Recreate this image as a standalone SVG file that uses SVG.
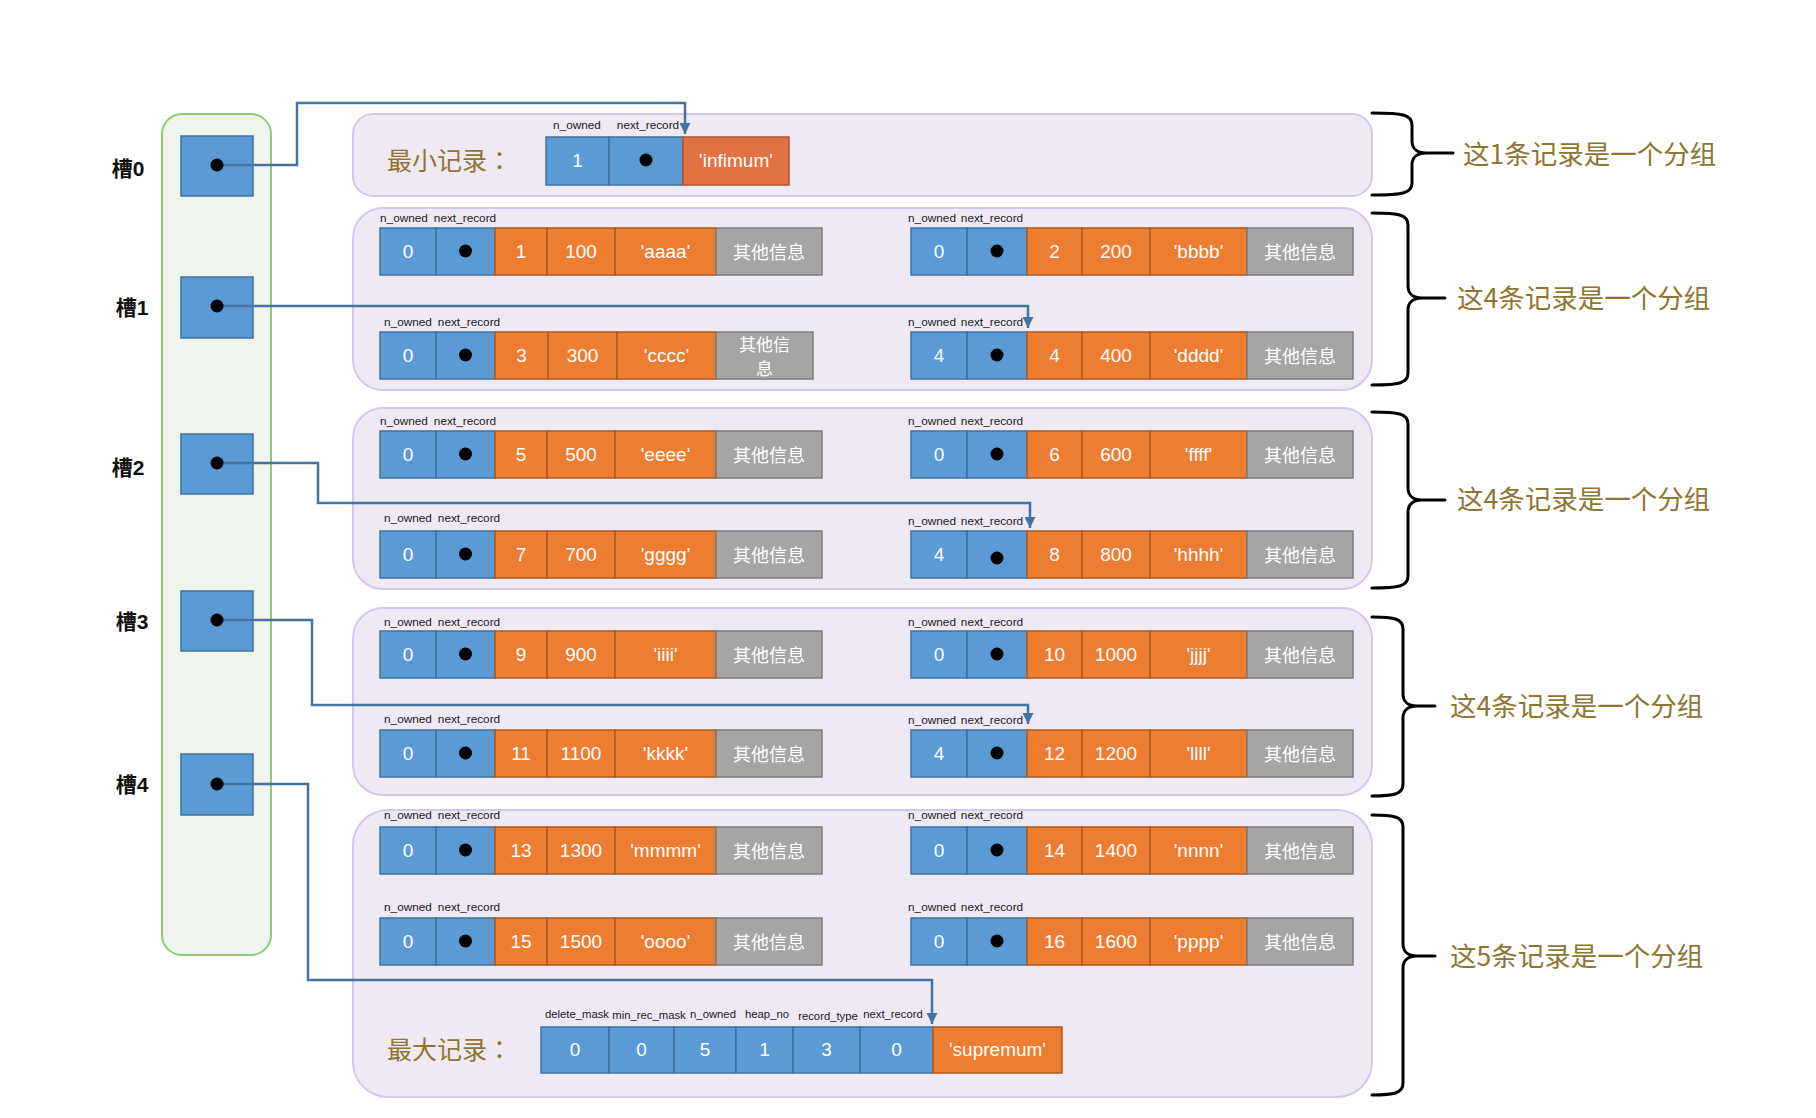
<svg xmlns="http://www.w3.org/2000/svg" width="1816" height="1118" viewBox="0 0 1816 1118">
<style>
.b{fill:#5B9BD5;stroke:#41719C;stroke-width:1.5}
.o{fill:#ED7D31;stroke:#AE5A21;stroke-width:1.5}
.o2{fill:#E27244;stroke:#B5552A;stroke-width:1.5}
.g{fill:#A5A5A5;stroke:#7C7C7C;stroke-width:1.5}
.v{font-family:"Liberation Sans",Arial,sans-serif;font-size:19px;fill:#fff;text-anchor:middle;dominant-baseline:central}
.z{font-family:"Noto Sans CJK SC",sans-serif;font-size:18px;fill:#fff;text-anchor:middle;dominant-baseline:central}
.z2{font-family:"Noto Sans CJK SC",sans-serif;font-size:17px;fill:#fff;text-anchor:middle;dominant-baseline:central}
.l{font-family:"Liberation Sans",Arial,sans-serif;font-size:11.8px;fill:#1a1a1a;text-anchor:middle;dominant-baseline:central}
.lm{font-family:"Liberation Sans",Arial,sans-serif;font-size:11.3px;fill:#1a1a1a;text-anchor:middle;dominant-baseline:central}
.d{fill:#000}
.grp{fill:#EFE9F4;stroke:#D8C6EA;stroke-width:2}
.cont{fill:#EFF4EC;stroke:#93C874;stroke-width:2}
.cap{font-family:"Noto Sans CJK SC",sans-serif;font-size:25px;fill:#8F7532;dominant-baseline:central}
.bt{font-family:"Noto Sans CJK SC",sans-serif;font-size:26.5px;fill:#8F7532;dominant-baseline:central}
.sl{font-family:"Liberation Sans","Noto Sans CJK SC",sans-serif;font-weight:bold;font-size:21px;fill:#111;text-anchor:middle;dominant-baseline:central}
.conn{fill:none;stroke:#44739F;stroke-width:2.5}
.brace{fill:none;stroke:#000;stroke-width:3;stroke-linecap:round}
</style>
<defs>
<marker id="arr" markerUnits="userSpaceOnUse" markerWidth="11" markerHeight="11" refX="10" refY="5" orient="auto" viewBox="0 0 10 10">
<path d="M0,0 L10,5 L0,10 z" fill="#44739F"/>
</marker>
<marker id="dot" markerUnits="userSpaceOnUse" markerWidth="14" markerHeight="14" refX="7" refY="7" viewBox="0 0 14 14">
<circle cx="7" cy="7" r="6.5" fill="#000"/>
</marker>
</defs>
<rect width="1816" height="1118" fill="#fff"/>

<g id="slot-directory">
<rect class="cont" x="162" y="114" width="109" height="841" rx="20"/>
</g>

<g id="group-min"><rect class="grp" x="353" y="114" width="1019" height="82" rx="20"/></g>
<g id="group-1"><rect class="grp" x="353" y="208" width="1019" height="182" rx="30"/></g>
<g id="group-2"><rect class="grp" x="353" y="408" width="1019" height="181" rx="30"/></g>
<g id="group-3"><rect class="grp" x="353" y="608" width="1019" height="187" rx="30"/></g>
<g id="group-4"><rect class="grp" x="353" y="810" width="1019" height="287" rx="35"/></g>

<g id="slot0"><rect class="b" x="181" y="136" width="72" height="60"/><text class="sl" x="128" y="168">槽0</text></g>
<g id="slot1"><rect class="b" x="181" y="277" width="72" height="61"/><text class="sl" x="132" y="307">槽1</text></g>
<g id="slot2"><rect class="b" x="181" y="434" width="72" height="60"/><text class="sl" x="128" y="467">槽2</text></g>
<g id="slot3"><rect class="b" x="181" y="591" width="72" height="60"/><text class="sl" x="132" y="621">槽3</text></g>
<g id="slot4"><rect class="b" x="181" y="754" width="72" height="61"/><text class="sl" x="132" y="784">槽4</text></g>

<g id="rec-infimum">
<text class="cap" x="387" y="159">最小记录<tspan font-family="Noto Sans CJK TC, sans-serif">：</tspan></text>
<text class="l" x="577" y="125">n_owned</text><text class="l" x="648" y="125">next_record</text>
<rect class="b" x="546" y="137" width="63" height="48"/>
<rect class="b" x="609" y="137" width="74" height="48"/>
<rect class="o2" x="683" y="137" width="106" height="48"/>
<text class="v" x="577.5" y="160">1</text><circle class="d" cx="646" cy="160" r="6.5"/>
<text class="v" x="736" y="160">'infimum'</text>
</g>

<g id="rec-aaaa" transform="translate(380,228)">
<rect class="b" width="56" height="47"/><rect class="b" x="56" width="59" height="47"/><rect class="o" x="115" width="52" height="47"/><rect class="o" x="167" width="68" height="47"/><rect class="o" x="235" width="101" height="47"/><rect class="g" x="336" width="106" height="47"/>
<text class="l" x="24" y="-10">n_owned</text><text class="l" x="85" y="-10">next_record</text>
<text class="v" x="28" y="23">0</text><circle class="d" cx="85.5" cy="23" r="6.5"/><text class="v" x="141" y="23">1</text><text class="v" x="201" y="23">100</text><text class="v" x="285.5" y="23">'aaaa'</text><text class="z" x="389" y="23">其他信息</text>
</g>
<g id="rec-bbbb" transform="translate(911,228)">
<rect class="b" width="56" height="47"/><rect class="b" x="56" width="60" height="47"/><rect class="o" x="116" width="55" height="47"/><rect class="o" x="171" width="68" height="47"/><rect class="o" x="239" width="97" height="47"/><rect class="g" x="336" width="106" height="47"/>
<text class="l" x="21" y="-10">n_owned</text><text class="l" x="81" y="-10">next_record</text>
<text class="v" x="28" y="23">0</text><circle class="d" cx="86" cy="23" r="6.5"/><text class="v" x="143.5" y="23">2</text><text class="v" x="205" y="23">200</text><text class="v" x="287.5" y="23">'bbbb'</text><text class="z" x="389" y="23">其他信息</text>
</g>
<g id="rec-cccc" transform="translate(380,332)">
<rect class="b" width="56" height="47"/><rect class="b" x="56" width="59" height="47"/><rect class="o" x="115" width="53" height="47"/><rect class="o" x="168" width="69" height="47"/><rect class="o" x="237" width="99" height="47"/><rect class="g" x="336" width="97" height="47"/>
<text class="l" x="28" y="-10">n_owned</text><text class="l" x="89" y="-10">next_record</text>
<text class="v" x="28" y="23">0</text><circle class="d" cx="85.5" cy="23" r="6.5"/><text class="v" x="141.5" y="23">3</text><text class="v" x="202.5" y="23">300</text><text class="v" x="286.5" y="23">'cccc'</text><text class="z2" x="384.5" y="11">其他信</text><text class="z2" x="384.5" y="35">息</text>
</g>
<g id="rec-dddd" transform="translate(911,332)">
<rect class="b" width="56" height="47"/><rect class="b" x="56" width="60" height="47"/><rect class="o" x="116" width="55" height="47"/><rect class="o" x="171" width="68" height="47"/><rect class="o" x="239" width="97" height="47"/><rect class="g" x="336" width="106" height="47"/>
<text class="l" x="21" y="-10">n_owned</text><text class="l" x="81" y="-10">next_record</text>
<text class="v" x="28" y="23">4</text><circle class="d" cx="86" cy="23" r="6.5"/><text class="v" x="143.5" y="23">4</text><text class="v" x="205" y="23">400</text><text class="v" x="287.5" y="23">'dddd'</text><text class="z" x="389" y="23">其他信息</text>
</g>

<g id="rec-eeee" transform="translate(380,431)">
<rect class="b" width="56" height="47"/><rect class="b" x="56" width="59" height="47"/><rect class="o" x="115" width="52" height="47"/><rect class="o" x="167" width="68" height="47"/><rect class="o" x="235" width="101" height="47"/><rect class="g" x="336" width="106" height="47"/>
<text class="l" x="24" y="-10">n_owned</text><text class="l" x="85" y="-10">next_record</text>
<text class="v" x="28" y="23">0</text><circle class="d" cx="85.5" cy="23" r="6.5"/><text class="v" x="141" y="23">5</text><text class="v" x="201" y="23">500</text><text class="v" x="285.5" y="23">'eeee'</text><text class="z" x="389" y="23">其他信息</text>
</g>
<g id="rec-ffff" transform="translate(911,431)">
<rect class="b" width="56" height="47"/><rect class="b" x="56" width="60" height="47"/><rect class="o" x="116" width="55" height="47"/><rect class="o" x="171" width="68" height="47"/><rect class="o" x="239" width="97" height="47"/><rect class="g" x="336" width="106" height="47"/>
<text class="l" x="21" y="-10">n_owned</text><text class="l" x="81" y="-10">next_record</text>
<text class="v" x="28" y="23">0</text><circle class="d" cx="86" cy="23" r="6.5"/><text class="v" x="143.5" y="23">6</text><text class="v" x="205" y="23">600</text><text class="v" x="287.5" y="23">'ffff'</text><text class="z" x="389" y="23">其他信息</text>
</g>
<g id="rec-gggg" transform="translate(380,531)">
<rect class="b" width="56" height="47"/><rect class="b" x="56" width="59" height="47"/><rect class="o" x="115" width="52" height="47"/><rect class="o" x="167" width="68" height="47"/><rect class="o" x="235" width="101" height="47"/><rect class="g" x="336" width="106" height="47"/>
<text class="l" x="28" y="-13">n_owned</text><text class="l" x="89" y="-13">next_record</text>
<text class="v" x="28" y="23">0</text><circle class="d" cx="85.5" cy="23" r="6.5"/><text class="v" x="141" y="23">7</text><text class="v" x="201" y="23">700</text><text class="v" x="285.5" y="23">'gggg'</text><text class="z" x="389" y="23">其他信息</text>
</g>
<g id="rec-hhhh" transform="translate(911,531)">
<rect class="b" width="56" height="47"/><rect class="b" x="56" width="60" height="47"/><rect class="o" x="116" width="55" height="47"/><rect class="o" x="171" width="68" height="47"/><rect class="o" x="239" width="97" height="47"/><rect class="g" x="336" width="106" height="47"/>
<text class="l" x="21" y="-10">n_owned</text><text class="l" x="81" y="-10">next_record</text>
<text class="v" x="28" y="23">4</text><circle class="d" cx="86" cy="27" r="6.5"/><text class="v" x="143.5" y="23">8</text><text class="v" x="205" y="23">800</text><text class="v" x="287.5" y="23">'hhhh'</text><text class="z" x="389" y="23">其他信息</text>
</g>

<g id="rec-iiii" transform="translate(380,631)">
<rect class="b" width="56" height="47"/><rect class="b" x="56" width="59" height="47"/><rect class="o" x="115" width="52" height="47"/><rect class="o" x="167" width="68" height="47"/><rect class="o" x="235" width="101" height="47"/><rect class="g" x="336" width="106" height="47"/>
<text class="l" x="28" y="-9">n_owned</text><text class="l" x="89" y="-9">next_record</text>
<text class="v" x="28" y="23">0</text><circle class="d" cx="85.5" cy="23" r="6.5"/><text class="v" x="141" y="23">9</text><text class="v" x="201" y="23">900</text><text class="v" x="285.5" y="23">'iiii'</text><text class="z" x="389" y="23">其他信息</text>
</g>
<g id="rec-jjjj" transform="translate(911,631)">
<rect class="b" width="56" height="47"/><rect class="b" x="56" width="60" height="47"/><rect class="o" x="116" width="55" height="47"/><rect class="o" x="171" width="68" height="47"/><rect class="o" x="239" width="97" height="47"/><rect class="g" x="336" width="106" height="47"/>
<text class="l" x="21" y="-9">n_owned</text><text class="l" x="81" y="-9">next_record</text>
<text class="v" x="28" y="23">0</text><circle class="d" cx="86" cy="23" r="6.5"/><text class="v" x="143.5" y="23">10</text><text class="v" x="205" y="23">1000</text><text class="v" x="287.5" y="23">'jjjj'</text><text class="z" x="389" y="23">其他信息</text>
</g>
<g id="rec-kkkk" transform="translate(380,730)">
<rect class="b" width="56" height="47"/><rect class="b" x="56" width="59" height="47"/><rect class="o" x="115" width="52" height="47"/><rect class="o" x="167" width="68" height="47"/><rect class="o" x="235" width="101" height="47"/><rect class="g" x="336" width="106" height="47"/>
<text class="l" x="28" y="-11">n_owned</text><text class="l" x="89" y="-11">next_record</text>
<text class="v" x="28" y="23">0</text><circle class="d" cx="85.5" cy="23" r="6.5"/><text class="v" x="141" y="23">11</text><text class="v" x="201" y="23">1100</text><text class="v" x="285.5" y="23">'kkkk'</text><text class="z" x="389" y="23">其他信息</text>
</g>
<g id="rec-llll" transform="translate(911,730)">
<rect class="b" width="56" height="47"/><rect class="b" x="56" width="60" height="47"/><rect class="o" x="116" width="55" height="47"/><rect class="o" x="171" width="68" height="47"/><rect class="o" x="239" width="97" height="47"/><rect class="g" x="336" width="106" height="47"/>
<text class="l" x="21" y="-10">n_owned</text><text class="l" x="81" y="-10">next_record</text>
<text class="v" x="28" y="23">4</text><circle class="d" cx="86" cy="23" r="6.5"/><text class="v" x="143.5" y="23">12</text><text class="v" x="205" y="23">1200</text><text class="v" x="287.5" y="23">'llll'</text><text class="z" x="389" y="23">其他信息</text>
</g>

<g id="rec-mmmm" transform="translate(380,827)">
<rect class="b" width="56" height="47"/><rect class="b" x="56" width="59" height="47"/><rect class="o" x="115" width="52" height="47"/><rect class="o" x="167" width="68" height="47"/><rect class="o" x="235" width="101" height="47"/><rect class="g" x="336" width="106" height="47"/>
<text class="l" x="28" y="-12">n_owned</text><text class="l" x="89" y="-12">next_record</text>
<text class="v" x="28" y="23">0</text><circle class="d" cx="85.5" cy="23" r="6.5"/><text class="v" x="141" y="23">13</text><text class="v" x="201" y="23">1300</text><text class="v" x="285.5" y="23">'mmmm'</text><text class="z" x="389" y="23">其他信息</text>
</g>
<g id="rec-nnnn" transform="translate(911,827)">
<rect class="b" width="56" height="47"/><rect class="b" x="56" width="60" height="47"/><rect class="o" x="116" width="55" height="47"/><rect class="o" x="171" width="68" height="47"/><rect class="o" x="239" width="97" height="47"/><rect class="g" x="336" width="106" height="47"/>
<text class="l" x="21" y="-12">n_owned</text><text class="l" x="81" y="-12">next_record</text>
<text class="v" x="28" y="23">0</text><circle class="d" cx="86" cy="23" r="6.5"/><text class="v" x="143.5" y="23">14</text><text class="v" x="205" y="23">1400</text><text class="v" x="287.5" y="23">'nnnn'</text><text class="z" x="389" y="23">其他信息</text>
</g>
<g id="rec-oooo" transform="translate(380,918)">
<rect class="b" width="56" height="47"/><rect class="b" x="56" width="59" height="47"/><rect class="o" x="115" width="52" height="47"/><rect class="o" x="167" width="68" height="47"/><rect class="o" x="235" width="101" height="47"/><rect class="g" x="336" width="106" height="47"/>
<text class="l" x="28" y="-11">n_owned</text><text class="l" x="89" y="-11">next_record</text>
<text class="v" x="28" y="23">0</text><circle class="d" cx="85.5" cy="23" r="6.5"/><text class="v" x="141" y="23">15</text><text class="v" x="201" y="23">1500</text><text class="v" x="285.5" y="23">'oooo'</text><text class="z" x="389" y="23">其他信息</text>
</g>
<g id="rec-pppp" transform="translate(911,918)">
<rect class="b" width="56" height="47"/><rect class="b" x="56" width="60" height="47"/><rect class="o" x="116" width="55" height="47"/><rect class="o" x="171" width="68" height="47"/><rect class="o" x="239" width="97" height="47"/><rect class="g" x="336" width="106" height="47"/>
<text class="l" x="21" y="-11">n_owned</text><text class="l" x="81" y="-11">next_record</text>
<text class="v" x="28" y="23">0</text><circle class="d" cx="86" cy="23" r="6.5"/><text class="v" x="143.5" y="23">16</text><text class="v" x="205" y="23">1600</text><text class="v" x="287.5" y="23">'pppp'</text><text class="z" x="389" y="23">其他信息</text>
</g>

<g id="rec-supremum">
<text class="cap" x="387" y="1048">最大记录<tspan font-family="Noto Sans CJK TC, sans-serif">：</tspan></text>
<text class="lm" x="577" y="1014">delete_mask</text><text class="lm" x="649" y="1015">min_rec_mask</text><text class="lm" x="713" y="1014">n_owned</text><text class="lm" x="767" y="1014">heap_no</text><text class="lm" x="828" y="1016">record_type</text><text class="lm" x="893" y="1014">next_record</text>
<rect class="b" x="541" y="1027" width="68" height="46"/><rect class="b" x="609" y="1027" width="65" height="46"/><rect class="b" x="674" y="1027" width="62" height="46"/><rect class="b" x="736" y="1027" width="57" height="46"/><rect class="b" x="793" y="1027" width="67" height="46"/><rect class="b" x="860" y="1027" width="73" height="46"/><rect class="o" x="933" y="1027" width="129" height="46"/>
<text class="v" x="575" y="1049">0</text><text class="v" x="641.5" y="1049">0</text><text class="v" x="705" y="1049">5</text><text class="v" x="764.5" y="1049">1</text><text class="v" x="826.5" y="1049">3</text><text class="v" x="896.5" y="1049">0</text><text class="v" x="997.5" y="1049">'supremum'</text>
</g>

<g id="connectors">
<path class="conn" marker-start="url(#dot)" marker-end="url(#arr)" d="M217,165 H297 V103 H685 V134"/>
<path class="conn" marker-start="url(#dot)" marker-end="url(#arr)" d="M217,306 H1028 V328"/>
<path class="conn" marker-start="url(#dot)" marker-end="url(#arr)" d="M217,463 H318 V503 H1030 V528"/>
<path class="conn" marker-start="url(#dot)" marker-end="url(#arr)" d="M217,620 H312 V705 H1028 V724"/>
<path class="conn" marker-start="url(#dot)" marker-end="url(#arr)" d="M217,784 H308 V980 H932 V1024"/>
</g>

<g id="brace-0">
<path class="brace" d="M1372,113 C1404,113 1412,115 1412,125 L1412,141 C1412,149 1418,153 1426,153 L1453,153 M1426,153 C1418,153 1412,157 1412,165 L1412,183 C1412,193 1404,195 1372,195"/>
<text class="bt" x="1463" y="152">这1条记录是一个分组</text>
</g>
<g id="brace-1">
<path class="brace" d="M1372,213 C1400,213 1408,215 1408,225 L1408,286 C1408,294 1414,298 1422,298 L1445,298 M1422,298 C1414,298 1408,302 1408,310 L1408,373 C1408,383 1400,385 1372,385"/>
<text class="bt" x="1457" y="296">这4条记录是一个分组</text>
</g>
<g id="brace-2">
<path class="brace" d="M1372,412 C1400,412 1408,414 1408,424 L1408,488 C1408,496 1414,500 1422,500 L1445,500 M1422,500 C1414,500 1408,504 1408,512 L1408,576 C1408,586 1400,588 1372,588"/>
<text class="bt" x="1457" y="497">这4条记录是一个分组</text>
</g>
<g id="brace-3">
<path class="brace" d="M1372,617 C1395,617 1403,619 1403,629 L1403,694 C1403,702 1409,706 1417,706 L1435,706 M1417,706 C1409,706 1403,710 1403,718 L1403,784 C1403,794 1395,796 1372,796"/>
<text class="bt" x="1450" y="704">这4条记录是一个分组</text>
</g>
<g id="brace-4">
<path class="brace" d="M1372,815 C1395,815 1403,817 1403,827 L1403,944 C1403,952 1409,956 1417,956 L1435,956 M1417,956 C1409,956 1403,960 1403,968 L1403,1083 C1403,1093 1395,1095 1372,1095"/>
<text class="bt" x="1450" y="954">这5条记录是一个分组</text>
</g>
</svg>
